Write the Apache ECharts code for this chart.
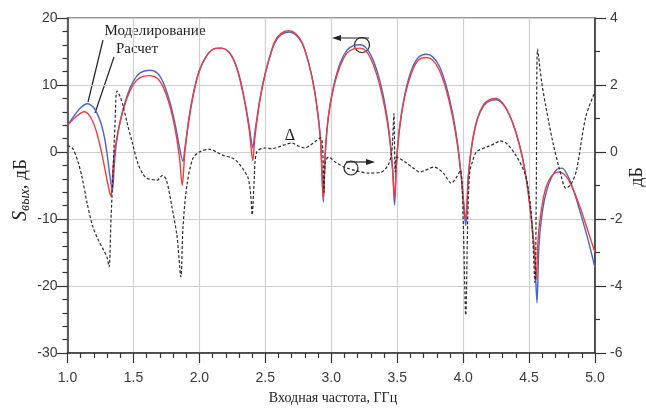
<!DOCTYPE html>
<html><head><meta charset="utf-8">
<script src="https://cdn.jsdelivr.net/npm/echarts@6/dist/echarts.min.js"></script>
<style>html,body{margin:0;padding:0;background:#fff}#c{width:646px;height:408px}</style>
</head><body><div id="c"></div>
<script>
// Моделирование (blue), left axis, dB
const modelF = [1.0,1.05,1.10,1.15,1.20,1.25,1.28,1.30,1.32,1.34,1.355,1.37,1.40,1.45,1.50,1.55,1.62,1.68,1.73,1.78,1.82,1.85,1.875,1.89,1.92,1.96,2.00,2.05,2.10,2.16,2.22,2.27,2.31,2.35,2.38,2.405,2.42,2.45,2.48,2.52,2.57,2.62,2.68,2.73,2.78,2.83,2.87,2.90,2.92,2.94,2.955,2.98,3.02,3.07,3.12,3.17,3.22,3.27,3.32,3.37,3.41,3.44,3.465,3.48,3.495,3.52,3.56,3.61,3.66,3.72,3.77,3.82,3.87,3.92,3.96,3.99,4.02,4.04,4.07,4.11,4.16,4.21,4.25,4.30,4.35,4.40,4.45,4.49,4.52,4.545,4.56,4.575,4.60,4.63,4.67,4.71,4.75,4.80,4.85,4.90,4.95,5.0];
const modelS = [4.0,5.4,6.6,7.2,6.6,4.5,2.2,-0.3,-3.3,-5.8,-2.0,1.2,4.6,8.3,10.6,11.8,12.2,11.8,10.2,7.2,3.8,0.6,-1.4,0.5,5.0,9.3,12.2,14.2,15.3,15.5,15.0,13.3,10.8,7.0,3.6,0.6,2.8,6.8,10.0,13.2,16.2,17.5,17.9,17.5,16.2,13.2,9.6,5.5,1.5,-7.5,0.0,5.6,10.0,13.4,15.2,15.9,16.0,15.4,13.6,10.5,6.8,2.8,-2.5,-7.9,-1.5,4.0,8.8,12.3,14.1,14.6,14.2,12.8,10.0,5.8,1.0,-4.5,-11.0,-3.5,1.5,5.0,7.0,7.7,7.8,7.2,5.6,3.0,-0.8,-5.5,-10.5,-16.5,-22.5,-14.0,-9.0,-6.0,-3.8,-2.6,-2.4,-3.8,-6.5,-9.8,-13.3,-17.3];
// Расчет (red), left axis, dB
const calcF = [1.0,1.05,1.10,1.13,1.18,1.22,1.26,1.29,1.315,1.33,1.345,1.36,1.40,1.45,1.50,1.55,1.62,1.68,1.73,1.78,1.82,1.85,1.87,1.89,1.92,1.96,2.00,2.05,2.10,2.16,2.22,2.27,2.31,2.35,2.38,2.405,2.42,2.45,2.48,2.52,2.57,2.62,2.675,2.73,2.78,2.83,2.87,2.90,2.92,2.94,2.955,2.98,3.02,3.07,3.12,3.17,3.22,3.27,3.32,3.37,3.41,3.44,3.465,3.48,3.495,3.52,3.56,3.61,3.66,3.72,3.77,3.82,3.87,3.92,3.96,3.99,4.02,4.04,4.07,4.11,4.16,4.21,4.25,4.30,4.35,4.40,4.45,4.49,4.52,4.54,4.555,4.57,4.60,4.63,4.67,4.72,4.76,4.80,4.85,4.90,4.95,5.0];
const calcS = [4.0,5.0,5.8,6.0,5.0,3.0,-0.2,-3.2,-5.6,-6.6,-2.5,0.5,4.6,8.0,10.1,11.1,11.4,11.0,9.5,6.6,3.0,-1.0,-5.0,0.0,4.6,9.1,12.1,14.2,15.3,15.5,15.0,13.3,10.6,6.8,3.0,-1.3,2.0,6.6,10.0,13.3,16.4,17.7,18.1,17.7,16.3,13.2,9.5,5.3,1.3,-7.0,0.0,5.5,9.8,13.0,14.8,15.4,15.5,14.9,13.0,9.8,6.2,2.4,-2.6,-7.0,-1.5,3.8,8.5,11.9,13.7,14.1,13.7,12.2,9.4,5.3,0.6,-4.5,-10.0,-3.5,1.5,5.1,7.2,7.9,8.0,7.3,5.6,2.9,-0.9,-5.5,-10.5,-14.5,-19.0,-12.5,-7.8,-5.2,-3.6,-3.0,-3.2,-4.2,-6.3,-9.0,-12.0,-15.0];
// Δ (black dashed), right axis, dB
const deltaF = [1.0,1.04,1.08,1.11,1.15,1.19,1.23,1.27,1.30,1.315,1.33,1.345,1.36,1.375,1.40,1.42,1.45,1.49,1.53,1.57,1.60,1.64,1.68,1.72,1.75,1.79,1.83,1.86,1.875,1.905,1.95,2.00,2.08,2.13,2.18,2.25,2.29,2.33,2.37,2.39,2.40,2.415,2.435,2.50,2.55,2.60,2.65,2.70,2.75,2.80,2.84,2.875,2.92,2.935,2.945,2.955,2.98,3.03,3.10,3.18,3.28,3.38,3.43,3.455,3.465,3.475,3.485,3.495,3.52,3.56,3.63,3.67,3.71,3.78,3.85,3.91,3.95,3.98,4.00,4.02,4.035,4.05,4.07,4.10,4.18,4.24,4.28,4.33,4.40,4.465,4.49,4.52,4.545,4.555,4.565,4.595,4.63,4.68,4.73,4.78,4.82,4.86,4.93,5.0];
const deltaD = [0.2,0.1,-0.3,-0.75,-1.55,-2.2,-2.6,-2.9,-3.15,-3.43,-2.0,-0.6,0.8,1.82,1.65,1.4,0.9,0.3,-0.3,-0.65,-0.78,-0.82,-0.84,-0.7,-0.84,-1.6,-2.5,-3.73,-2.3,-1.0,-0.2,0.0,0.08,0.0,-0.1,-0.18,-0.3,-0.5,-0.78,-1.3,-1.88,-0.9,0.0,0.12,0.1,0.15,0.22,0.27,0.18,0.12,0.2,0.3,0.42,0.1,-1.2,-0.3,-0.15,-0.3,-0.45,-0.55,-0.63,-0.6,-0.4,-0.1,0.3,1.15,-0.6,-0.15,-0.2,-0.3,-0.5,-0.6,-0.55,-0.45,-0.63,-0.93,-0.75,-0.55,-2.0,-4.87,-2.0,-0.6,-0.3,0.0,0.15,0.25,0.33,0.25,-0.1,-0.6,-1.0,-2.0,-3.9,-1.0,3.07,2.1,1.3,0.3,-0.5,-1.08,-0.95,-0.54,1.05,1.8];
const xTicks = {min:1.0, max:5.0, step:0.5};
const yLeftTicks = {min:-30, max:20, step:10};
const yRightTicks = {min:-6, max:4, step:2};

const zip = (a,b)=>a.map((x,i)=>[x,b[i]]);
const chart = echarts.init(document.getElementById('c'), null, {renderer:'canvas'});
const axisCol = '#333';
const tickFont = {fontFamily:'Liberation Sans', fontSize:14, color:'#3a3a3a'};
chart.setOption({
  animation:false,
  backgroundColor:'#fff',
  grid:{left:67.5, right:51, top:18, bottom:55, show:true, borderColor:axisCol, borderWidth:1.2},
  xAxis:{type:'value', min:xTicks.min, max:xTicks.max, interval:xTicks.step,
    axisLine:{show:true, onZero:false, lineStyle:{color:axisCol, width:1.5}},
    axisTick:{show:true, length:10, lineStyle:{color:axisCol, width:1.2}},
    minorTick:{show:true, splitNumber:5, length:5, lineStyle:{color:axisCol, width:1.2}},
    splitLine:{show:true, lineStyle:{color:'#cfcfcf', width:1.2}},
    axisLabel:Object.assign({margin:18, formatter:v=>v.toFixed(1)}, tickFont)},
  yAxis:[
    {type:'value', min:yLeftTicks.min, max:yLeftTicks.max, interval:yLeftTicks.step, position:'left',
     axisLine:{show:true, onZero:false, lineStyle:{color:axisCol, width:1.5}},
     axisTick:{show:true, length:11, lineStyle:{color:axisCol, width:1.2}},
     minorTick:{show:true, splitNumber:5, length:5, lineStyle:{color:axisCol, width:1.2}},
     splitLine:{show:true, lineStyle:{color:'#cfcfcf', width:1.2}},
     axisLabel:Object.assign({margin:10}, tickFont)},
    {type:'value', min:yRightTicks.min, max:yRightTicks.max, interval:yRightTicks.step, position:'right',
     axisLine:{show:true, onZero:false, lineStyle:{color:axisCol, width:1.5}},
     axisTick:{show:true, length:11, lineStyle:{color:axisCol, width:1.2}},
     minorTick:{show:true, splitNumber:2, length:5, lineStyle:{color:axisCol, width:1.2}},
     splitLine:{show:false},
     axisLabel:Object.assign({margin:15}, tickFont)}
  ],
  series:[
    {name:'Моделирование', type:'line', yAxisIndex:0, data:zip(modelF,modelS), showSymbol:false, smooth:0.3,
     lineStyle:{color:'#4b63cc', width:1.4}},
    {name:'Расчет', type:'line', yAxisIndex:0, data:zip(calcF,calcS), showSymbol:false, smooth:0.3,
     lineStyle:{color:'#f03c3c', width:1.4}},
    {name:'Δ', type:'line', yAxisIndex:1, data:zip(deltaF,deltaD), showSymbol:false, smooth:0.3,
     lineStyle:{color:'#2a2a2a', width:1.2, type:[3,2]}}
  ],
  graphic:[
    {type:'text', x:155, y:31, style:{text:'Моделирование', font:'15px "Liberation Serif"', fill:'#222', align:'center', verticalAlign:'middle'}},
    {type:'text', x:137, y:49, style:{text:'Расчет', font:'15px "Liberation Serif"', fill:'#222', align:'center', verticalAlign:'middle'}},
    {type:'line', shape:{x1:103,y1:40,x2:88,y2:102}, style:{stroke:'#222', lineWidth:1.2}},
    {type:'line', shape:{x1:114,y1:57,x2:95,y2:113}, style:{stroke:'#222', lineWidth:1.2}},
    {type:'text', x:290, y:136, style:{text:'Δ', font:'16px "Liberation Serif"', fill:'#222', align:'center', verticalAlign:'middle'}},
    {type:'circle', shape:{cx:362, cy:45, r:7.5}, style:{stroke:'#222', fill:'none', lineWidth:1.2}},
    {type:'line', shape:{x1:369,y1:38,x2:336,y2:38}, style:{stroke:'#222', lineWidth:1.2}},
    {type:'polygon', shape:{points:[[332,38],[341,35],[341,41]]}, style:{fill:'#222'}},
    {type:'circle', shape:{cx:351, cy:168, r:7}, style:{stroke:'#222', fill:'none', lineWidth:1.2}},
    {type:'line', shape:{x1:346,y1:162,x2:370,y2:162}, style:{stroke:'#222', lineWidth:1.2}},
    {type:'polygon', shape:{points:[[375,162],[366,159],[366,165]]}, style:{fill:'#222'}},
    {type:'text', x:333, y:398, style:{text:'Входная частота, ГГц', font:'14px "Liberation Serif"', fill:'#222', align:'center', verticalAlign:'middle'}},
    {type:'text', x:21, y:190, rotation:Math.PI/2, style:{
      text:'{s|S}{b|вых}{n|, дБ}', align:'center', verticalAlign:'middle',
      rich:{s:{fontFamily:'Liberation Serif', fontStyle:'italic', fontSize:20, fill:'#222'},
            b:{fontFamily:'Liberation Serif', fontStyle:'italic', fontSize:14, fill:'#222', padding:[8,0,0,0]},
            n:{fontFamily:'Liberation Serif', fontSize:19, fill:'#222'}}}},
    {type:'text', x:637, y:177, rotation:Math.PI/2, style:{text:'дБ', font:'18px "Liberation Serif"', fill:'#222', align:'center', verticalAlign:'middle'}}
  ]
});
</script></body></html>
